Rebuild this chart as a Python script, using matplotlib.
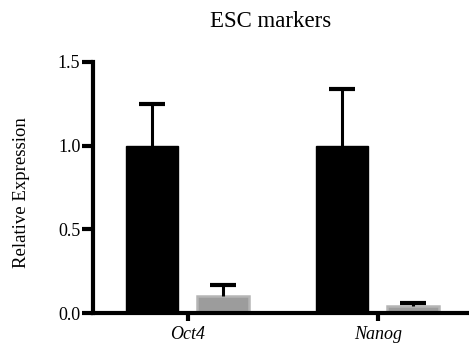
import matplotlib
matplotlib.use("Agg")
import matplotlib.pyplot as plt
import numpy as np

genes = ["Oct4", "Nanog"]
control_mean = [1.0, 1.0]
control_err = [0.25, 0.34]
treated_mean = [0.1, 0.04]
treated_err = [0.07, 0.02]
y_ticks = [0.0, 0.5, 1.0, 1.5]
y_tick_labels = ["0.0", "0.5", "1.0", "1.5"]

plt.rcParams["font.family"] = ["Liberation Serif", "DejaVu Serif"]

fig = plt.figure(figsize=(4.69, 3.48), dpi=100)
ax = fig.add_axes([0.198, 0.100, 0.802, 0.722])

x = np.arange(len(genes))
width = 0.274
offset = 0.187

ax.bar(x - offset, control_mean, width, color="black", edgecolor="black",
       linewidth=1, zorder=2)
ax.bar(x + offset, treated_mean, width, color="#9c9c9c", edgecolor="#b5b5b5",
       linewidth=1.8, zorder=2)


def upper_errorbars(xpos, means, errs):
    zeros = [0] * len(means)
    _, caps, _ = ax.errorbar(xpos, means, yerr=[zeros, errs], fmt="none",
                             ecolor="black", elinewidth=2.2, capsize=9.5,
                             capthick=3, zorder=3)
    # keep only the cap at the top of each bar
    caps[0].set_visible(False)


upper_errorbars(x - offset, control_mean, control_err)
upper_errorbars(x + offset, treated_mean, treated_err)

ax.set_xlim(-0.5, 1.48)
ax.set_ylim(0, 1.5)
ax.set_yticks(y_ticks)
ax.set_yticklabels(y_tick_labels, fontsize=13)
ax.set_xticks(x)
ax.set_xticklabels(genes, fontsize=13, style="italic")

for side in ("top", "right"):
    ax.spines[side].set_visible(False)
for side in ("left", "bottom"):
    ax.spines[side].set_linewidth(3)
ax.spines["left"].set_capstyle("projecting")
ax.tick_params(axis="y", direction="out", length=8, width=3, pad=1)
ax.tick_params(axis="x", direction="out", length=6, width=3, pad=3)

ax.set_ylabel("Relative Expression", fontsize=13.5)
ax.yaxis.set_label_coords(-0.168, 0.48)
fig.text(0.578, 0.937, "ESC markers", fontsize=16.5, ha="center", va="center")

fig.savefig("out.png", dpi=100, facecolor="white")
